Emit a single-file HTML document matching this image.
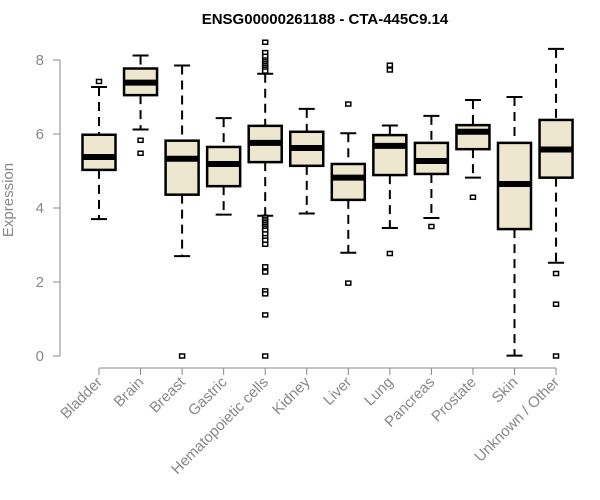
<!DOCTYPE html>
<html><head><meta charset="utf-8"><style>body{margin:0;background:#fff}svg{display:block;font-family:"Liberation Sans",Arial,sans-serif}</style></head>
<body>
<svg id="chart" width="600" height="500">
<text x="325" y="24" text-anchor="middle" font-weight="bold" font-size="15">ENSG00000261188 - CTA-445C9.14</text>
<text transform="translate(13,200) rotate(-90)" text-anchor="middle" font-size="15" fill="#888">Expression</text>
<g id="axes"></g><g id="marks"></g>
</svg>
<script>
const categories=["Bladder","Brain","Breast","Gastric","Hematopoietic cells","Kidney","Liver","Lung","Pancreas","Prostate","Skin","Unknown / Other"];
const lowWhisker=[3.70,6.12,2.70,3.82,3.79,3.85,2.79,3.46,3.73,4.82,0.01,2.52];
const q1=[5.03,7.05,4.36,4.59,5.24,5.14,4.22,4.89,4.92,5.59,3.43,4.82];
const medians=[5.38,7.39,5.33,5.19,5.76,5.62,4.82,5.68,5.27,6.06,4.65,5.58];
const q3=[5.98,7.77,5.82,5.65,6.22,6.06,5.19,5.97,5.76,6.24,5.76,6.38];
const highWhisker=[7.27,8.12,7.85,6.43,7.63,6.68,6.02,6.23,6.49,6.92,7.0,8.30];
const outliers=[[7.42],[5.83,5.48],[0.0],[],[8.48,8.2,8.1,8.0,7.95,7.9,7.85,7.8,7.75,7.7,3.75,3.7,3.65,3.6,3.55,3.5,3.45,3.4,3.3,3.2,3.13,3.02,2.41,2.27,1.76,1.68,1.11,0.0],[],[6.81,1.97],[7.86,7.73,2.77],[3.5],[4.29],[],[2.23,1.40,0.0]];
const yTicks=[0,2,4,6,8];
const NS="http://www.w3.org/2000/svg";
const y=v=>356-v*37;
const x=i=>99+i*41.55;
function mk(parent,tag,attrs){const e=document.createElementNS(NS,tag);for(const k in attrs)e.setAttribute(k,attrs[k]);parent.appendChild(e);return e;}
const axes=document.getElementById('axes'),marks=document.getElementById('marks');
let e=mk(axes,'line',{x1:60,x2:60,y1:y(8),y2:y(0),stroke:'#888'});


yTicks.forEach(t=>{
 mk(axes,'line',{x1:53,x2:60,y1:y(t),y2:y(t),stroke:'#888'});
 const tx=mk(axes,'text',{x:44,y:y(t)+5,'text-anchor':'end','font-size':15,fill:'#888'});tx.textContent=t;
 
 
});
e=mk(axes,'line',{x1:x(0),x2:x(11),y1:368,y2:368,stroke:'#888'});


categories.forEach((c,i)=>{
 mk(axes,'line',{x1:x(i),x2:x(i),y1:368,y2:375,stroke:'#888'});
 const tx=mk(axes,'text',{transform:`translate(${x(i)+4},383) rotate(-45)`,'text-anchor':'end','font-size':15,fill:'#888'});tx.textContent=c;
 
 
 const g=mk(marks,'g',{});
 
 
 const cx=x(i);
 mk(g,'line',{x1:cx,x2:cx,y1:y(highWhisker[i]),y2:y(q3[i]),stroke:'#000','stroke-width':2,'stroke-dasharray':'9,6'});
 mk(g,'line',{x1:cx,x2:cx,y1:y(q1[i]),y2:y(lowWhisker[i]),stroke:'#000','stroke-width':2,'stroke-dasharray':'9,6'});
 mk(g,'line',{x1:cx-8,x2:cx+8,y1:y(highWhisker[i]),y2:y(highWhisker[i]),stroke:'#000','stroke-width':2});
 mk(g,'line',{x1:cx-8,x2:cx+8,y1:y(lowWhisker[i]),y2:y(lowWhisker[i]),stroke:'#000','stroke-width':2});
 mk(g,'rect',{x:cx-16.5,y:y(q3[i]),width:33,height:y(q1[i])-y(q3[i]),fill:'#ede7cf',stroke:'#000','stroke-width':2.5});
 mk(g,'line',{x1:cx-16.5,x2:cx+16.5,y1:y(medians[i]),y2:y(medians[i]),stroke:'#000','stroke-width':6});
 outliers[i].forEach(v=>mk(g,'rect',{x:cx-2.5,y:y(v)-2,width:5,height:4,fill:'#fff',stroke:'#000','stroke-width':1.5}));
});
</script>
</body></html>
